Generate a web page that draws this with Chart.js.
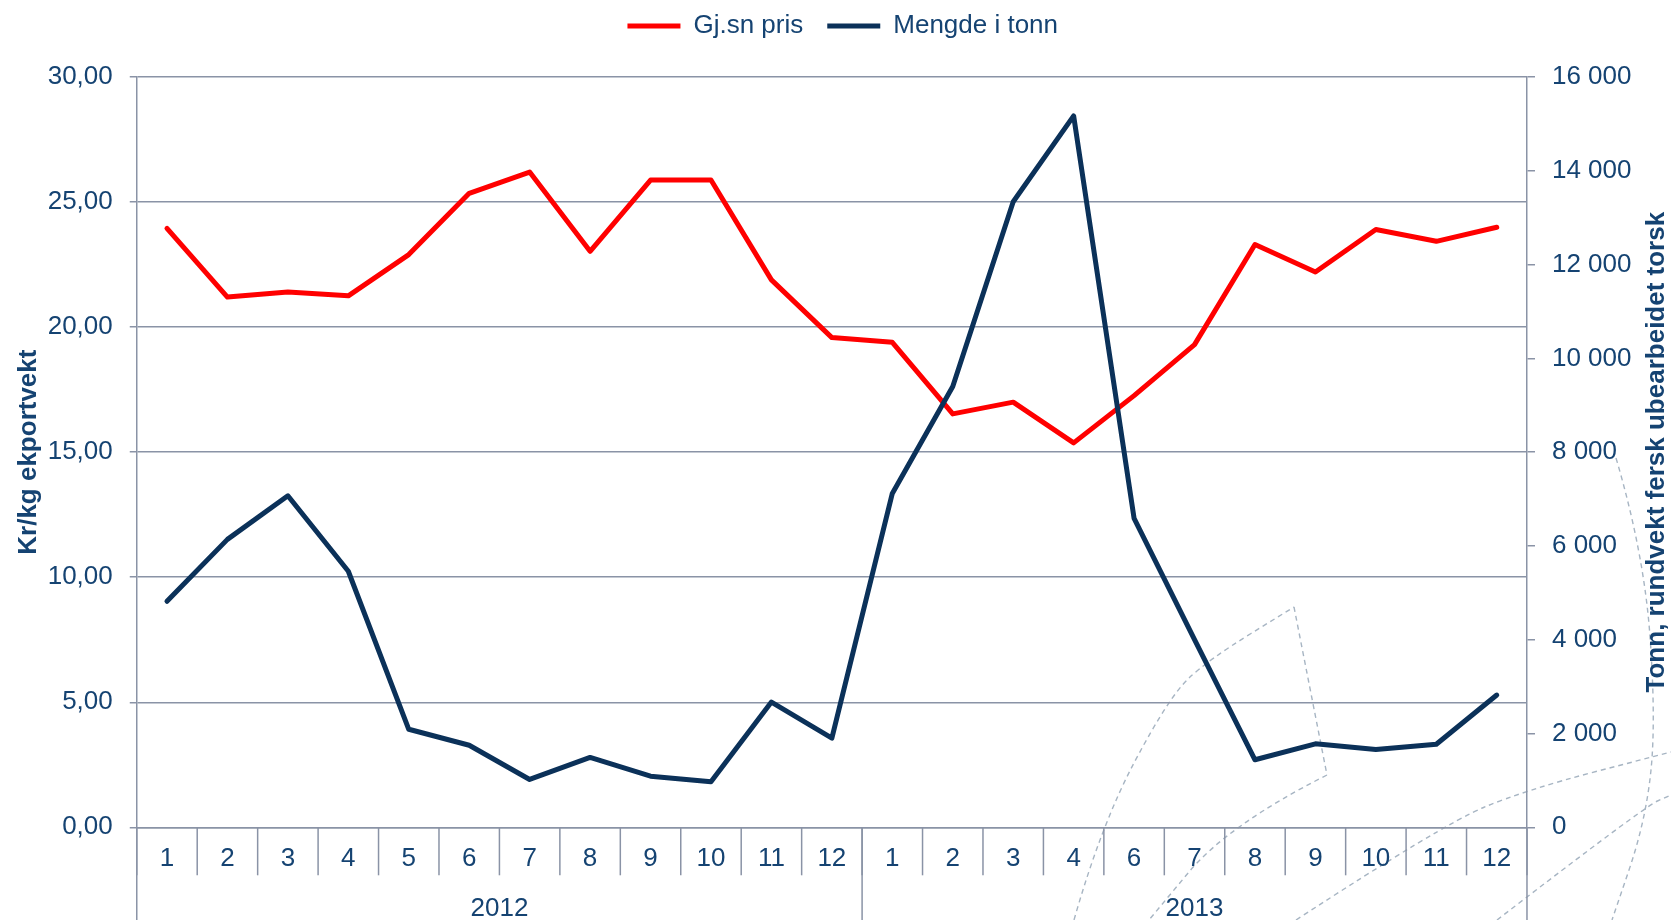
<!DOCTYPE html>
<html>
<head>
<meta charset="utf-8">
<script src="https://cdn.jsdelivr.net/npm/chart.js@4/dist/chart.umd.min.js"></script>
<style>
  html, body { margin: 0; padding: 0; background: #ffffff; }
  #wrap { width: 1671px; height: 920px; }
</style>
</head>
<body>
<div id="wrap"><canvas id="c" width="1671" height="920"></canvas></div>
<script>
// ---- data ----
const months = ['1','2','3','4','5','6','7','8','9','10','11','12',
                '1','2','3','4','6','7','8','9','10','11','12'];
const years = ['2012', '2013'];
const yearLengths = [12, 11];
const priceLabel = 'Gj.sn pris';
const tonnLabel = 'Mengde i tonn';
const price = [23.95, 21.2, 21.4, 21.25, 22.9, 25.35, 26.2, 23.03, 25.88, 25.88, 21.89, 19.58,
               19.39, 16.53, 17.0, 15.37, 17.26, 19.3, 23.3, 22.2, 23.9, 23.43, 23.99];
const tonnes = [4820, 6140, 7070, 5460, 2090, 1750, 1020, 1490, 1090, 970, 2670, 1900,
                7120, 9400, 13340, 15170, 6590, 4000, 1440, 1780, 1660, 1770, 2820];
const leftTitle = 'Kr/kg ekportvekt';
const rightTitle = 'Tonn, rundvekt fersk ubearbeidet torsk';

// ---- style ----
const FONT = "'Liberation Sans', Arial, sans-serif";
const TEXT = '#154372';
const GRID = '#8A93A6';
const RED = '#FF0000';
const NAVY = '#0B3159';

function fmtLeft(v) { return v.toFixed(2).replace('.', ','); }
function fmtRight(v) { return String(Math.round(v)).replace(/\B(?=(\d{3})+(?!\d))/g, ' '); }

const watermark = {
  id: 'watermark',
  beforeDraw(chart) {
    const ctx = chart.ctx;
    ctx.save();
    ctx.strokeStyle = '#A7B5C3';
    ctx.lineWidth = 1.4;
    ctx.setLineDash([5, 4]);
    const paths = [
      [[1074,920],[1101,825],[1169,697],[1208,660],[1294,607]],
      [[1294,607],[1327,775]],
      [[1327,775],[1228,825],[1149,920]],
      [[1296,920],[1442,825],[1525,790],[1671,752]],
      [[1497,920],[1644,807],[1671,795]],
      [[1616,458],[1644,553],[1656,720],[1646,820],[1612,920]]
    ];
    paths.forEach(p => {
      ctx.beginPath();
      ctx.moveTo(p[0][0], p[0][1]);
      if (p.length === 2) { ctx.lineTo(p[1][0], p[1][1]); }
      else {
        for (let i = 1; i < p.length - 1; i++) {
          const xc = (p[i][0] + p[i+1][0]) / 2, yc = (p[i][1] + p[i+1][1]) / 2;
          ctx.quadraticCurveTo(p[i][0], p[i][1], xc, yc);
        }
        ctx.lineTo(p[p.length-1][0], p[p.length-1][1]);
      }
      ctx.stroke();
    });
    ctx.restore();
  }
};

const groupAxis = {
  id: 'groupAxis',
  afterDraw(chart) {
    const ctx = chart.ctx;
    const xs = chart.scales.x;
    const area = chart.chartArea;
    const step = xs.getPixelForValue(1) - xs.getPixelForValue(0);
    ctx.save();
    ctx.strokeStyle = GRID;
    ctx.lineWidth = 1.5;
    // month separators
    for (let i = 0; i <= months.length; i++) {
      const b = xs.getPixelForValue(0) + (i - 0.5) * step;
      ctx.beginPath(); ctx.moveTo(b, area.bottom); ctx.lineTo(b, area.bottom + 48); ctx.stroke();
    }
    // year group separators
    let start = 0;
    const bounds = [xs.getPixelForValue(0) - step / 2];
    yearLengths.forEach(n => { start += n; bounds.push(xs.getPixelForValue(start - 1) + step / 2); });
    bounds.forEach(b => {
      ctx.beginPath(); ctx.moveTo(b, area.bottom); ctx.lineTo(b, chart.height); ctx.stroke();
    });
    ctx.fillStyle = TEXT;
    ctx.font = '26px ' + FONT;
    ctx.textAlign = 'center';
    ctx.textBaseline = 'middle';
    years.forEach((y, i) => {
      ctx.fillText(y, (bounds[i] + bounds[i+1]) / 2, area.bottom + 82);
    });
    // right axis title (reads bottom to top)
    ctx.save();
    ctx.translate(1657, (area.top + area.bottom) / 2);
    ctx.rotate(-Math.PI / 2);
    ctx.font = 'bold 26px ' + FONT;
    ctx.fillText(rightTitle, 0, 0);
    ctx.restore();
    ctx.restore();
  }
};

const legendSpace = {
  id: 'legendSpace',
  beforeInit(chart) {
    const origFit = chart.legend.fit;
    chart.legend.fit = function () { origFit.bind(this)(); this.height += 28; };
  },
  afterLayout(chart) {
    chart.legend.left += 14;
    chart.legend.right += 14;
  }
};

new Chart(document.getElementById('c'), {
  type: 'line',
  data: {
    labels: months,
    datasets: [
      { label: priceLabel, data: price, yAxisID: 'y', borderColor: RED, backgroundColor: RED,
        borderWidth: 5, pointRadius: 0, tension: 0, order: 1,
        borderCapStyle: 'round', borderJoinStyle: 'round' },
      { label: tonnLabel, data: tonnes, yAxisID: 'y1', borderColor: NAVY, backgroundColor: NAVY,
        borderWidth: 5, pointRadius: 0, tension: 0, order: 0,
        borderCapStyle: 'round', borderJoinStyle: 'round' }
    ]
  },
  options: {
    responsive: false,
    animation: false,
    events: [],
    layout: { padding: { left: 9, right: 22.5, top: -11, bottom: 37.5 } },
    plugins: {
      tooltip: { enabled: false },
      legend: {
        position: 'top',
        labels: {
          usePointStyle: true, pointStyle: 'line', pointStyleWidth: 53,
          color: TEXT, font: { family: FONT, size: 26 }, padding: 24,
          sort: (a, b) => a.datasetIndex - b.datasetIndex
        }
      }
    },
    scales: {
      x: {
        type: 'category',
        offset: true,
        grid: { display: false },
        border: { color: GRID, width: 1.5 },
        ticks: { color: TEXT, font: { family: FONT, size: 26 }, padding: 8,
                 maxRotation: 0, autoSkip: false }
      },
      y: {
        position: 'left', min: 0, max: 30,
        ticks: { stepSize: 5, color: TEXT, font: { family: FONT, size: 26 }, padding: 17,
                 callback: v => fmtLeft(v) },
        grid: { color: GRID, lineWidth: 1.5, tickLength: 7 },
        border: { color: GRID, width: 1.5 },
        title: { display: true, text: leftTitle, color: TEXT,
                 font: { family: FONT, size: 26, weight: 'bold' }, padding: { top: 4, bottom: -13.5 } }
      },
      y1: {
        position: 'right', min: 0, max: 16000,
        ticks: { stepSize: 2000, color: TEXT, font: { family: FONT, size: 26 }, padding: 17,
                 callback: v => fmtRight(v) },
        grid: { drawOnChartArea: false, color: GRID, lineWidth: 1.5, tickLength: 8 },
        border: { color: GRID, width: 1.5 }
      }
    }
  },
  plugins: [watermark, groupAxis, legendSpace]
});
</script>
</body>
</html>
